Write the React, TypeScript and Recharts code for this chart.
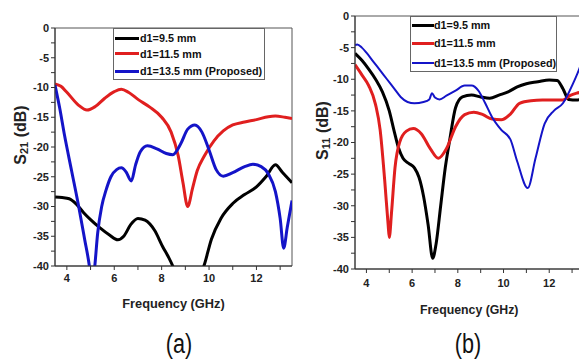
import React from "react";
import {
  LineChart,
  Line,
  XAxis,
  YAxis,
  Legend,
  ReferenceArea,
} from "recharts";

// series names + colours shared by both panels
const seriesNames = ["d1=9.5 mm", "d1=11.5 mm", "d1=13.5 mm (Proposed)"];
const seriesColors = ["#000000", "#e01f1f", "#1414c8"];

const yTicks = [0, -2.5, -5, -7.5, -10, -12.5, -15, -17.5, -20, -22.5, -25, -27.5, -30, -32.5, -35, -37.5, -40];
const xTicks = [4, 5, 6, 7, 8, 9, 10, 11, 12, 13];

// (a) S21
const s21BlackFreq = [3.5, 3.8, 4.1, 4.4, 4.7, 5.0, 5.4, 5.8, 6.15, 6.4, 6.7, 7.0, 7.3, 7.7, 8.05, 8.3, 8.5, 8.8, 9.2, 9.5, 9.8, 10.1, 10.5, 11.0, 11.5, 12.0, 12.4, 12.8, 13.1, 13.5];
const s21BlackDb = [-28.4, -28.5, -28.7, -29.6, -31, -32.2, -33.6, -34.8, -35.6, -35, -33, -32, -32.3, -34, -36.8, -38.6, -40.3, -44, -46, -43, -39.8, -35.5, -32, -29.5, -28, -26.7, -25, -23, -24.3, -26];

const s21RedFreq = [3.5, 3.75, 4.0, 4.5, 4.85, 5.2, 5.6, 6.0, 6.3, 6.6, 7.0, 7.5, 8.0, 8.4, 8.7, 8.9, 9.1, 9.3, 9.5, 9.8, 10.2, 10.6, 11.0, 11.5, 12.0, 12.5, 12.8, 13.2, 13.5];
const s21RedDb = [-9.4, -9.8, -10.8, -13.0, -13.8, -13.2, -11.8, -10.7, -10.3, -10.8, -12.0, -13.3, -15.0, -17.5, -21.5, -26, -30, -27, -24, -21.5, -19, -17.3, -16.3, -15.8, -15.4, -14.9, -14.8, -15.0, -15.2];

const s21BlueFreq = [3.5, 3.7, 3.9, 4.2, 4.5, 4.75, 4.95, 5.07, 5.18, 5.3, 5.47, 5.65, 5.86, 6.1, 6.3, 6.5, 6.72, 6.9, 7.1, 7.4, 7.8, 8.2, 8.47, 8.8, 9.1, 9.4, 9.7, 10.0, 10.3, 10.6, 11.0, 11.5, 11.85, 12.2, 12.5, 12.8, 13.0, 13.15, 13.3, 13.5];
const s21BlueDb = [-9.6, -13.5, -18, -24, -30, -35.5, -40, -44, -40, -34.5, -30, -27.3, -25, -23.8, -23.5, -24.2, -25.7, -23, -20.8, -19.8, -20.3, -21.1, -21.3, -19.5, -17, -16.3, -17.5, -20.5, -23.8, -24.9, -24.3, -23.3, -22.9, -23.3, -24.5, -27.5, -32, -37, -33.5, -29];

// (b) S11
const s11BlackFreq = [3.5, 3.8, 4.1, 4.4, 4.7, 5.0, 5.2, 5.4, 5.6, 5.85, 6.1, 6.3, 6.5, 6.7, 6.9, 7.05, 7.25, 7.45, 7.65, 7.9, 8.2, 8.6, 9.0, 9.4, 9.8, 10.2, 10.6, 11.0, 11.5, 12.0, 12.35, 12.6, 12.85, 13.2, 13.5];
const s11BlackDb = [-5.9, -7, -8.4, -10, -12, -15, -18, -20.8, -22.5, -23.3, -24, -25.5, -28.5, -33, -38.3, -36, -30, -24, -19.5, -14.5, -12.8, -12.5, -12.8, -13, -12.5, -12, -11.2, -10.7, -10.4, -10.1, -10.2, -11.5, -13.2, -13.3, -13];

const s11RedFreq = [3.5, 3.8, 4.1, 4.4, 4.6, 4.8, 4.95, 5.0, 5.1, 5.25, 5.45, 5.75, 6.05, 6.4, 6.8, 7.15, 7.5, 7.9, 8.3, 8.7, 9.1, 9.5, 9.9, 10.3, 10.7, 11.2, 11.7, 12.2, 12.6, 12.9, 13.2, 13.5];
const s11RedDb = [-7.7, -9.3, -11, -14, -18, -26, -33, -35, -31, -24, -20, -18.2, -17.8, -18.6, -21, -22.5, -21, -17.5, -15.6, -15.2, -15.6, -16.3, -16.4, -15.5, -13.8, -13.4, -13.3, -13.3, -13.3, -12.6, -12.2, -12];

const s11BlueFreq = [3.5, 3.6, 3.8, 4.0, 4.3, 4.6, 4.9, 5.2, 5.5, 5.8, 6.1, 6.5, 6.75, 6.87, 7.0, 7.2, 7.5, 7.9, 8.3, 8.6, 8.9, 9.2, 9.5, 9.9, 10.3, 10.6, 11.06, 11.4, 11.8, 12.2, 12.6, 13.0, 13.3, 13.5];
const s11BlueDb = [-4.6, -4.5, -5, -5.8, -7.2, -8.6, -10, -11.4, -12.8, -13.6, -13.8, -13.6, -13.2, -12.2, -12.9, -13.2, -12.6, -11.8, -11, -11, -11.8, -13.8, -16, -18, -19.5, -23, -27.2, -22.5, -17, -15, -13.8, -11, -8.5, -6.5];

const toPoints = (freq: number[], db: number[]) =>
  freq.map((f, i) => ({ f, db: db[i] }));

const font = "'Liberation Sans', Arial, sans-serif";

type LegendCfg = {
  width: number;
  height: number;
  rows: number[];
  lineW: number;
  textX: number;
  widths: number[];
};

function LegendBox({ cfg }: { cfg: LegendCfg }) {
  return (
    <div
      style={{
        position: "relative",
        width: cfg.width,
        height: cfg.height,
        border: "1px solid #666",
        boxSizing: "border-box",
        background: "#fff",
        fontFamily: font,
        fontWeight: "bold",
        fontSize: 10.8,
        color: "#111",
      }}
    >
      {seriesNames.map((name, i) => (
        <div key={name}>
          <div
            style={{
              position: "absolute",
              left: 1,
              top: cfg.rows[i] - cfg.widths[i] / 2 - 1,
              width: cfg.lineW,
              height: cfg.widths[i],
              background: seriesColors[i],
            }}
          />
          <div
            style={{
              position: "absolute",
              left: cfg.textX,
              top: cfg.rows[i] - 8,
              lineHeight: "14px",
              whiteSpace: "nowrap",
            }}
          >
            {name}
          </div>
        </div>
      ))}
    </div>
  );
}

function yLabel(sub: string, dx: number) {
  return (props: any) => {
    const vb = props.viewBox;
    const cx = vb.x + dx;
    const cy = vb.y + vb.height / 2 - 12;
    return (
      <text
        x={cx}
        y={cy}
        transform={`rotate(-90 ${cx} ${cy})`}
        textAnchor="middle"
        dominantBaseline="central"
        fontFamily={font}
        fontWeight="bold"
        fontSize={16}
        fill="#222"
      >
        S
        <tspan dy={4} fontSize={11}>
          {sub}
        </tspan>
        <tspan dy={-4}> (dB)</tspan>
      </text>
    );
  };
}

function xLabel(dy: number, size: number) {
  return (props: any) => {
    const vb = props.viewBox;
    return (
      <text
        x={vb.x + vb.width / 2}
        y={vb.y + dy}
        textAnchor="middle"
        dominantBaseline="central"
        fontFamily={font}
        fontWeight="bold"
        fontSize={size}
        fill="#222"
      >
        Frequency (GHz)
      </text>
    );
  };
}

type PanelProps = {
  series: { f: number; db: number }[][];
  strokes: number[];
  margin: { top: number; right: number; left: number; bottom: number };
  yAxisWidth: number;
  sub: string;
  yLabelDx: number;
  xLabelDy: number;
  xLabelSize: number;
  xTickMargin: number;
  legendPos: { left: number; top: number };
  legendCfg: LegendCfg;
};

function Panel(p: PanelProps) {
  const tickStyle = { fontFamily: font, fontWeight: "bold", fontSize: 11, fill: "#222" };
  return (
    <LineChart width={300} height={363} margin={p.margin}>
      <XAxis
        type="number"
        dataKey="f"
        domain={[3.5, 13.5]}
        ticks={xTicks}
        interval={0}
        allowDataOverflow
        height={30}
        tickSize={4}
        tickMargin={p.xTickMargin}
        tickFormatter={(v: number) => (v % 2 === 0 ? String(v) : "")}
        tick={tickStyle}
        stroke="#333"
        label={{ content: xLabel(p.xLabelDy, p.xLabelSize) }}
      />
      <YAxis
        type="number"
        domain={[-40, 0]}
        ticks={yTicks}
        interval={0}
        allowDataOverflow
        width={p.yAxisWidth}
        tickSize={4}
        tickMargin={2}
        tickFormatter={(v: number) => (v % 5 === 0 ? String(v) : "")}
        tick={tickStyle}
        stroke="#333"
        label={{ content: yLabel(p.sub, p.yLabelDx) }}
      />
      <ReferenceArea x1={3.5} x2={13.5} y1={-40} y2={0} fill="none" stroke="#555" strokeWidth={1} />
      {p.series.map((d, i) => (
        <Line
          key={seriesNames[i]}
          data={d}
          dataKey="db"
          name={seriesNames[i]}
          type="monotone"
          stroke={seriesColors[i]}
          strokeWidth={p.strokes[i]}
          dot={false}
          isAnimationActive={false}
        />
      ))}
      <Legend
        layout="vertical"
        align="center"
        verticalAlign="middle"
        wrapperStyle={{ left: p.legendPos.left, top: p.legendPos.top, width: p.legendCfg.width }}
        content={() => <LegendBox cfg={p.legendCfg} />}
      />
    </LineChart>
  );
}

const titleStyle: React.CSSProperties = {
  position: "absolute",
  top: 328,
  width: 40,
  textAlign: "center",
  fontFamily: font,
  fontSize: 27,
  lineHeight: "32px",
  color: "#111",
  transform: "scaleX(0.8)",
};

export default function App() {
  return (
    <div
      style={{
        position: "absolute",
        left: 0,
        top: 0,
        width: 579,
        height: 363,
        overflow: "hidden",
        background: "#fff",
      }}
    >
      <div style={{ position: "absolute", left: 0, top: 0 }}>
        <Panel
          series={[
            toPoints(s21BlackFreq, s21BlackDb),
            toPoints(s21RedFreq, s21RedDb),
            toPoints(s21BlueFreq, s21BlueDb),
          ]}
          strokes={[3, 3, 3]}
          margin={{ top: 28, right: 8, left: 10, bottom: 67 }}
          yAxisWidth={45}
          sub="21"
          yLabelDx={10}
          xLabelDy={37}
          xLabelSize={12.8}
          xTickMargin={4}
          legendPos={{ left: 113, top: 28 }}
          legendCfg={{ width: 152, height: 52, rows: [10, 25.5, 43], lineW: 24, textX: 26, widths: [3, 3, 3] }}
        />
      </div>
      <div style={{ position: "absolute", left: 290, top: 0 }}>
        <Panel
          series={[
            toPoints(s11BlackFreq, s11BlackDb),
            toPoints(s11RedFreq, s11RedDb),
            toPoints(s11BlueFreq, s11BlueDb),
          ]}
          strokes={[3, 3, 2]}
          margin={{ top: 16, right: 6.5, left: 15, bottom: 64 }}
          yAxisWidth={50}
          sub="11"
          yLabelDx={17}
          xLabelDy={41}
          xLabelSize={12.3}
          xTickMargin={6}
          legendPos={{ left: 120, top: 16 }}
          legendCfg={{ width: 147, height: 56, rows: [9, 27, 47], lineW: 22, textX: 23, widths: [3, 3, 2] }}
        />
      </div>
      <div style={{ ...titleStyle, left: 159 }}>(a)</div>
      <div style={{ ...titleStyle, left: 448 }}>(b)</div>
    </div>
  );
}
